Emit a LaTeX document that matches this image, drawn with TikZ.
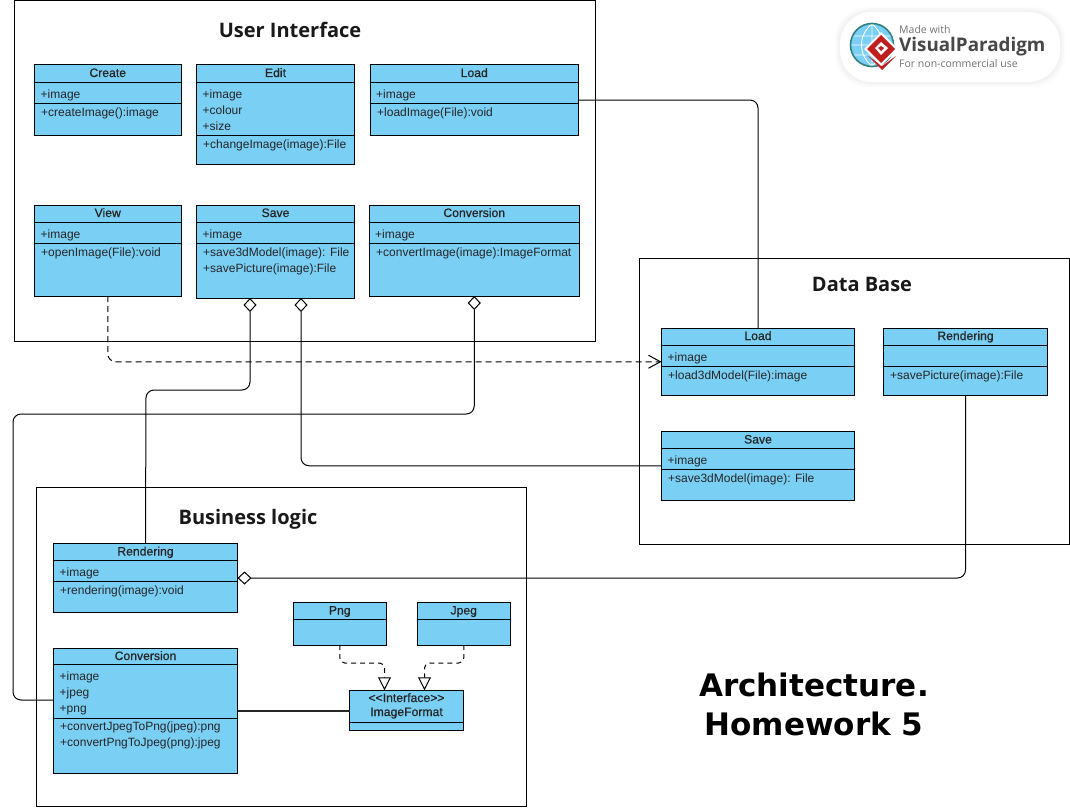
\documentclass[tikz,border=0pt]{standalone}
\usepackage{fontspec}
\usetikzlibrary{arrows.meta,calc}
\newfontfamily\umlfont{Liberation Sans}
\newfontfamily\umlhead[FakeBold=0.7]{Liberation Sans}
\newfontfamily\headfont{Open Sans}
\newfontfamily\bigfont{DejaVu Sans}
\definecolor{vpblue}{HTML}{7ACFF5}
\tikzset{
  pane/.style={draw=black,line width=1pt,fill=white},
  panetitle/.style={font=\headfont\fontsize{20}{24}\selectfont\bfseries,inner sep=0pt,text=black!90},
  klassbox/.style={draw=black,line width=1pt,fill=vpblue,inner sep=0pt,outer sep=0pt},
  klasstitle/.style={font=\umlhead\fontsize{12.2}{14}\selectfont,inner sep=0pt,anchor=base,text=black!85},
  member/.style={font=\umlfont\fontsize{12}{14}\selectfont,inner sep=0pt,anchor=base west,text=black!85},
  link/.style={draw=black,line width=1pt,rounded corners=8pt},
  aggr/.style={link,{Diamond[open,fill=white,length=14pt,width=13pt]}-},
  depend/.style={link,dash pattern=on 6pt off 4pt,-{Straight Barb[length=12pt,width=13pt]}},
  realize/.style={link,rounded corners=5pt,dash pattern=on 5pt off 4pt,-{Triangle[open,fill=white,length=13pt,width=13pt]}},
  bigtitle/.style={font=\bigfont\fontsize{31}{40}\selectfont\bfseries,inner sep=0pt,text=black},
  badgetext/.style={inner sep=0pt,anchor=base west}
}
% name, x1, y1, x2, y2, sep1, sep2, title, attributes
\newcommand{\klass}[9]{%
  \node[klassbox,minimum width={(#4-#2)*1pt},minimum height={(#5-#3)*1pt}] (#1) at ({(#2+#4)/2},{(#3+#5)/2}) {};
  \draw[line width=1pt] (#2,#6) -- (#4,#6) (#2,#7) -- (#4,#7);
  \node[klasstitle] (#1-title) at ({(#2+#4)/2},{#3+12}) {#8};
  \foreach \mtext [count=\mi] in {#9} {
    \node[member] (#1-a\mi) at ({#2+6},{#6+16*\mi-0}) {\mtext};
  }%
}
% name, x, y of first baseline, operations
\newcommand{\klassops}[4]{%
  \foreach \mtext [count=\mi] in {#4} {
    \node[member] (#1-o\mi) at (#2,{#3+16*(\mi-1)}) {\mtext};
  }%
}
\begin{document}
\begin{tikzpicture}[x=1pt,y=-1pt]
\useasboundingbox (0,0) rectangle (1070,808);
\fill[white] (0,0) rectangle (1070,808);

% panes
\node[pane,minimum width=580.5pt,minimum height=341pt,inner sep=0pt] (uipane) at (305,171) {};
\node[pane,minimum width=430pt,minimum height=285.5pt,inner sep=0pt] (dbpane) at (854,401.5) {};
\node[pane,minimum width=490pt,minimum height=319pt,inner sep=0pt] (blpane) at (281.5,647) {};
\node[panetitle] (uititle) at (290,30) {User Interface};
\node[panetitle] (dbtitle) at (862,284) {Data Base};
\node[panetitle] (bltitle) at (248,519) {Business logic};

% User Interface classes
\klass{create}{34.5}{65}{181}{135}{82}{103}{Create}{+image}
\klassops{create}{41}{116}{+createImage():image}
\klass{edit}{196.5}{65}{354.5}{164}{82}{135.5}{Edit}{+image,+colour,+size}
\klassops{edit}{203}{148}{+changeImage(image):File}
\klass{uiload}{370}{65}{578.5}{135}{82}{103}{Load}{+image}
\klassops{uiload}{377}{116}{+loadImage(File):void}
\klass{view}{34.5}{205}{181}{296}{222}{243}{View}{+image}
\klassops{view}{41}{256}{+openImage(File):void}
\klass{uisave}{196.5}{205}{354.5}{298}{222}{243}{Save}{+image}
\klassops{uisave}{203}{256}{+save3dModel(image): File,+savePicture(image):File}
\klass{uiconv}{369}{205}{579.5}{296}{222}{243}{Conversion}{+image}
\klassops{uiconv}{376}{256}{+convertImage(image):ImageFormat}

% Data Base classes
\klass{dbload}{661.5}{328}{854.5}{395.5}{345}{366}{Load}{+image}
\klassops{dbload}{668}{379}{+load3dModel(File):image}
\klass{dbrend}{883.5}{328}{1047.5}{395.5}{345}{366}{Rendering}{}
\klassops{dbrend}{890}{379}{+savePicture(image):File}
\klass{dbsave}{661.5}{431.5}{854.5}{500}{448}{469}{Save}{+image}
\klassops{dbsave}{668}{482}{+save3dModel(image): File}

% Business logic classes
\klass{rend}{53.5}{543.5}{237.5}{612.5}{560.5}{581.5}{Rendering}{+image}
\klassops{rend}{60}{594}{+rendering(image):void}
\klass{conv}{53.5}{648}{237.5}{773}{664.5}{718}{Conversion}{+image,+jpeg,+png}
\klassops{conv}{60}{730}{+convertJpegToPng(jpeg):png,+convertPngToJpeg(png):jpeg}
\klass{png}{293.5}{602.5}{386}{645}{619}{619}{Png}{}
\klass{jpeg}{417.5}{602.5}{510}{645}{619}{619}{Jpeg}{}
\node[klassbox,minimum width=114pt,minimum height=40.5pt] (iface) at (406.5,710.5) {};
\draw[line width=1pt] (iface.west |- 0,722) -- (iface.east |- 0,722);
\node[klasstitle] (ifacestereo) at (406.5,702) {<{}<Interface>{}>};
\node[klasstitle] (ifacename) at (406.5,716) {ImageFormat};

% connector end points
\coordinate (saveA) at ($(uisave.south west)+(53.5,0)$);
\coordinate (saveB) at ($(uisave.south west)+(104.5,0)$);
\coordinate (bendA) at (146,390);
\coordinate (bendB) at (13,414);
\coordinate (convIn) at (53.5,700);
\coordinate (ifaceA) at ($(iface.north west)+(35,0)$);
\coordinate (ifaceB) at ($(iface.north west)+(75,0)$);
\coordinate (midA) at (384.5,663);
\coordinate (midB) at (424.5,663);

% connectors
\draw[link] (uiload.east) -| (dbload.north);
\draw[depend] (view.south) |- (dbload.west);
\draw[aggr] (saveA) |- (bendA) -- (rend.north);
\draw[aggr] (saveB) |- (dbsave.west);
\draw[aggr] (uiconv.south) |- (bendB) |- (convIn);
\draw[aggr] (rend.east) -| (dbrend.south);
\draw[realize] (png.south) |- (midA) -- (ifaceA);
\draw[realize] (jpeg.south) |- (midB) -- (ifaceB);
\draw[line width=2pt,black!85] (conv.east) -- (iface.west);

% big title
\node[bigtitle] (archline) at (814,685) {Architecture.};
\node[bigtitle] (hwline) at (814,724) {Homework 5};

% badge
\foreach \g/\o in {5/0.012,3.5/0.015,2/0.02}{
  \fill[black,opacity=\o,rounded corners=32pt] ({840-\g},{12-\g}) rectangle ({1060+\g},{82+\g});
}
\fill[white,rounded corners=32pt] (840,12) rectangle (1060,82);
\fill[vpblue] (872,45) circle (21pt);
\begin{scope}
\clip (872,45) circle (21pt);
\draw[white,line width=0.9pt] (851,36) -- (893,36) (851,45) -- (893,45) (851,55) -- (893,55)
  (872,24) -- (872,66) (872,24) .. controls (858,35) and (858,55) .. (872,66)
  (872,24) .. controls (886,35) and (886,55) .. (872,66);
\end{scope}
\draw[teal!60!gray,line width=1.6pt] (872,45) circle (21.5pt);
% logo: lower chevron, white gap, main diamond with a white window
\fill[red!72!black!88] (867,55) -- (882,70) -- (896,56) -- (882,66) -- cycle;
\fill[white] (881,32) -- (898,49) -- (881,66) -- (864,49) -- cycle;
\fill[red!72!black!88] (881,35) -- (895,49) -- (881,63) -- (867,49) -- cycle;
\fill[white] (881,42) -- (888,48) -- (881,55) -- (875,48) -- cycle;
\fill[red!72!black!88] (881,46) -- (884,48) -- (881,51) -- (878,48) -- cycle;
\node[badgetext,font=\headfont\fontsize{10.5}{12}\selectfont,text=black!55] (vpmade) at (899,34) {Made with};
\node[badgetext,font=\headfont\fontsize{18.8}{20}\selectfont\bfseries,text=black!72] (vpname) at (899,52) {VisualParadigm};
\node[badgetext,font=\headfont\fontsize{10.5}{12}\selectfont,text=black!55] (vpuse) at (899,67) {For non-commercial use};
\end{tikzpicture}
\end{document}
